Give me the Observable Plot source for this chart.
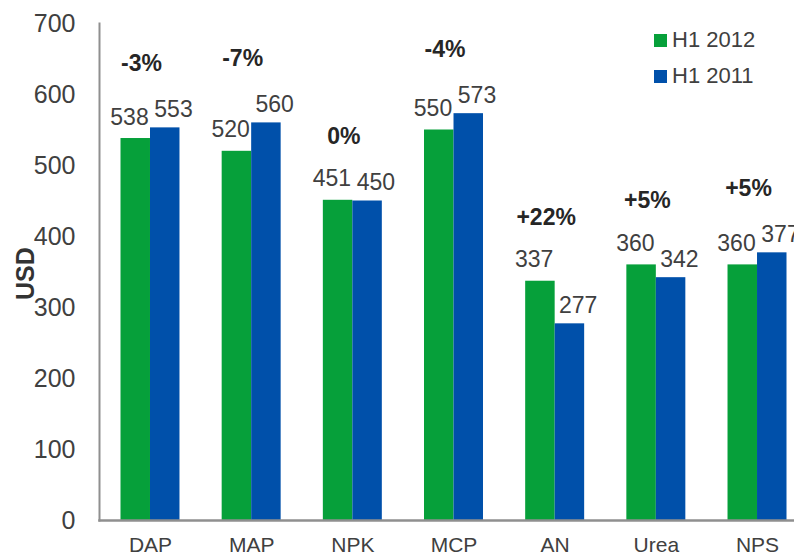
<!DOCTYPE html>
<html><head><meta charset="utf-8">
<script src="https://cdn.jsdelivr.net/npm/d3@7"></script>
<script src="https://cdn.jsdelivr.net/npm/@observablehq/plot@0.6"></script>
<style>
body{margin:0;background:#fff;font-family:"Liberation Sans",Arial,sans-serif}
#wrap{position:relative;width:794px;height:559px;overflow:hidden;background:#fff}
.leg{position:absolute;left:654px;font-size:22px;color:#404040;display:flex;align-items:center;line-height:22px;white-space:nowrap}
.sw{width:13px;height:13px;margin-right:5px}
</style></head>
<body><div id="wrap"></div>
<script>
const categories = ["DAP", "MAP", "NPK", "MCP", "AN", "Urea", "NPS"];
const h1_2012 = [538, 520, 451, 550, 337, 360, 360];
const h1_2011 = [553, 560, 450, 573, 277, 342, 377];
const changes = ["-3%", "-7%", "0%", "-4%", "+22%", "+5%", "+5%"];
const seriesNames = ["H1 2012", "H1 2011"];
const yTicks = [0, 100, 200, 300, 400, 500, 600, 700];

const green = "#06a03a";
const blue = "#0050aa";
const axisGray = "#8f8f8f";

const rows = categories.map((c, i) => ({
  c, a: h1_2012[i], b: h1_2011[i], pct: changes[i],
  top: Math.max(h1_2012[i], h1_2011[i])
}));

const chart = Plot.plot({
  width: 794, height: 559,
  marginLeft: 99, marginRight: 0, marginTop: 23, marginBottom: 39,
  style: {fontFamily: "'Liberation Sans', Arial, sans-serif", background: "white", overflow: "hidden"},
  x: {type: "band", domain: categories, range: [99, 808], paddingInner: 0.417, paddingOuter: 0.2125, round: false},
  y: {domain: [0, 700]},
  marks: [
    Plot.barY(rows, {x: "c", y: "a", fill: green, insetRight: 29.5}),
    Plot.barY(rows, {x: "c", y: "b", fill: blue, insetLeft: 29.5}),
    Plot.frame({anchor: "left", stroke: axisGray, strokeWidth: 2}),
    Plot.frame({anchor: "bottom", stroke: axisGray, strokeWidth: 2.5}),
    Plot.axisY({ticks: yTicks, tickSize: 0, tickPadding: 24, fontSize: 25, label: null, color: "#404040"}),
    Plot.axisX({tickSize: 0, tickPadding: 17, fontSize: 21, label: null, color: "#404040"}),
    Plot.text(rows, {x: "c", y: "a", text: d => String(d.a), dx: -21, dy: -14, lineAnchor: "bottom", fontSize: 23, fill: "#404040"}),
    Plot.text(rows, {x: "c", y: "b", text: d => String(d.b), dx: 23, dy: -11, lineAnchor: "bottom", fontSize: 23, fill: "#404040"}),
    Plot.text(rows, {x: "c", y: "top", text: "pct", dx: -9, dy: -64, lineAnchor: "middle", fontSize: 23, fontWeight: "bold", fill: "#262626"}),
    Plot.text(["USD"], {frameAnchor: "left", text: d => d, rotate: -90, dx: -74, dy: 28, fontSize: 25, fontWeight: "bold", fill: "#333"})
  ]
});

const wrap = document.getElementById("wrap");
wrap.appendChild(chart);

const colors = [green, blue];
seriesNames.forEach((name, i) => {
  const row = document.createElement("div");
  row.className = "leg";
  row.style.top = (29 + i * 36) + "px";
  const sw = document.createElement("span");
  sw.className = "sw";
  sw.style.background = colors[i];
  row.appendChild(sw);
  row.appendChild(document.createTextNode(name));
  wrap.appendChild(row);
});
</script>
</body></html>
